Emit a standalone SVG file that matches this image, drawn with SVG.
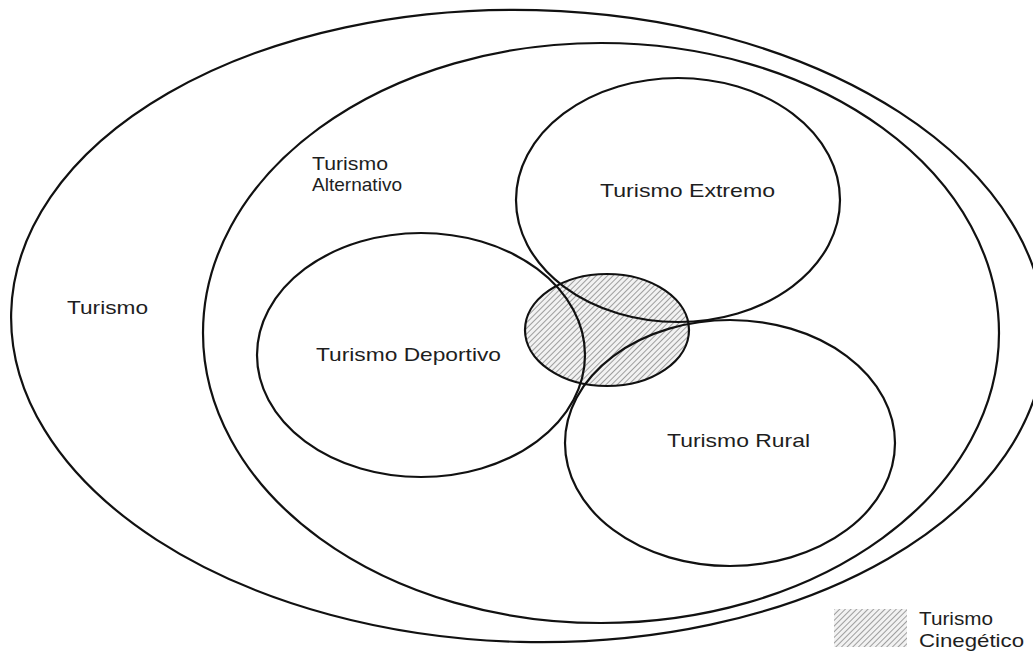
<svg xmlns="http://www.w3.org/2000/svg" width="1033" height="656" viewBox="0 0 1033 656">
  <defs>
    <pattern id="hatch" patternUnits="userSpaceOnUse" width="4" height="4" patternTransform="rotate(45)">
      <rect width="4" height="4" fill="#f2f2f2"/>
      <line x1="0" y1="0" x2="0" y2="4" stroke="#7a7a7a" stroke-width="1.4"/>
    </pattern>
  </defs>
  <style>
    .ring { fill: none; stroke: #111; stroke-width: 2.2; }
    .lbl { font-family: "Liberation Sans", Arial, sans-serif; font-size: 18.5px; fill: #1e1e1e; }
  </style>
  <rect width="1033" height="656" fill="#ffffff"/>

  <g id="cinegetico-fill">
    <ellipse cx="607" cy="330" rx="82" ry="56" fill="url(#hatch)"/>
  </g>

  <g id="turismo">
    <ellipse class="ring" cx="528" cy="326" rx="517" ry="316" transform="rotate(1.5 528 326)"/>
    <text class="lbl" x="67" y="314" textLength="81" lengthAdjust="spacingAndGlyphs">Turismo</text>
  </g>

  <g id="turismo-alternativo">
    <ellipse class="ring" cx="601" cy="333" rx="398" ry="290"/>
    <text class="lbl" x="312" y="170" textLength="76" lengthAdjust="spacingAndGlyphs">Turismo</text>
    <text class="lbl" x="312" y="191" textLength="90" lengthAdjust="spacingAndGlyphs">Alternativo</text>
  </g>

  <g id="turismo-extremo">
    <ellipse class="ring" cx="678" cy="200" rx="162" ry="122"/>
    <text class="lbl" x="600" y="197" textLength="175" lengthAdjust="spacingAndGlyphs">Turismo Extremo</text>
  </g>

  <g id="turismo-deportivo">
    <ellipse class="ring" cx="421" cy="355" rx="164" ry="122"/>
    <text class="lbl" x="316" y="361" textLength="185" lengthAdjust="spacingAndGlyphs">Turismo Deportivo</text>
  </g>

  <g id="turismo-rural">
    <ellipse class="ring" cx="730" cy="443" rx="165" ry="123"/>
    <text class="lbl" x="667" y="447" textLength="143" lengthAdjust="spacingAndGlyphs">Turismo Rural</text>
  </g>

  <g id="turismo-cinegetico">
    <ellipse class="ring" cx="607" cy="330" rx="82" ry="56"/>
  </g>

  <g id="legend">
    <rect x="834" y="609" width="73" height="38" fill="url(#hatch)"/>
    <text class="lbl" x="919" y="625" textLength="74" lengthAdjust="spacingAndGlyphs">Turismo</text>
    <text class="lbl" x="919" y="647" textLength="105" lengthAdjust="spacingAndGlyphs">Cinegético</text>
  </g>

  <g id="connectors"></g>
</svg>
